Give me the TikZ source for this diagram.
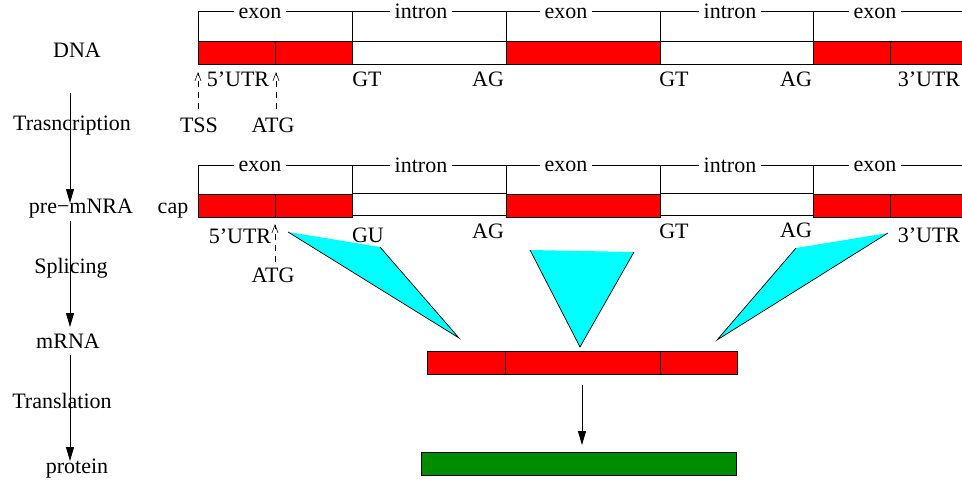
\documentclass[tikz,border=0pt]{standalone}
\usepackage{fontspec}
\setmainfont{Liberation Serif}
\usetikzlibrary{arrows.meta}
\definecolor{exonred}{RGB}{255,0,0}
\definecolor{protgreen}{RGB}{0,140,0}
\definecolor{spliceccyan}{RGB}{0,255,255}
\tikzset{
  lbl/.style={font=\fontsize{22}{24}\selectfont, inner sep=0pt, anchor=base},
  brlbl/.style={lbl, fill=white, inner xsep=5pt, inner ysep=3pt},
  exonbox/.style={fill=exonred, draw=black, line width=0.7pt},
  intronbox/.style={fill=white, draw=black, line width=0.7pt},
  bracket/.style={draw=black, line width=0.6pt},
  flow/.style={line width=0.8pt, -{Triangle[length=14pt,width=8pt]}},
  marker/.style={line width=0.6pt, dash pattern=on 6pt off 5pt, -{Straight Barb[length=8pt,width=6pt]}},
  spliceedge/.style={line width=0.7pt}
}
\begin{document}
\begin{tikzpicture}[x=1pt,y=-1pt]
\useasboundingbox (0,0) rectangle (962,480);
\clip (0,0) rectangle (962,480);

% ---------------- left column: stages and steps ----------------
\node[lbl] (dna)    at (77,57)  {DNA};
\node[lbl] (trans)  at (72,130) {Trasncription};
\node[lbl] (pre)    at (81,213) {pre\textminus mNRA};
\node[lbl] (splice) at (71,273) {Splicing};
\node[lbl] (mrna)   at (68,348) {mRNA};
\node[lbl] (transl) at (62,408) {Translation};
\node[lbl] (prot)   at (77,473) {protein};

\coordinate (a1s) at (70,93);  \coordinate (a1e) at (70,203);
\coordinate (a2s) at (70,221); \coordinate (a2e) at (70,327);
\coordinate (a3s) at (70,355); \coordinate (a3e) at (70,461);
\draw[flow] (a1s) -- (a1e);
\draw[flow] (a2s) -- (a2e);
\draw[flow] (a3s) -- (a3e);

% ---------------- DNA ----------------
\draw[bracket] (198,41) -- (198,11) -- (966,11);
\foreach \x in {352,506,660,813} \draw[bracket] (\x,11) -- (\x,41);
\node[brlbl] (dex1) at (260,18) {exon};
\node[brlbl] (din1) at (421,18) {intron};
\node[brlbl] (dex2) at (566,18) {exon};
\node[brlbl] (din2) at (730,18) {intron};
\node[brlbl] (dex3) at (875,18) {exon};

\draw[exonbox]   (198,41) rectangle (275,64);
\draw[exonbox]   (275,41) rectangle (352,64);
\draw[intronbox] (352,41) rectangle (506,64);
\draw[exonbox]   (506,41) rectangle (660,64);
\draw[intronbox] (660,41) rectangle (813,64);
\draw[exonbox]   (813,41) rectangle (890,64);
\draw[exonbox]   (890,41) rectangle (968,64);

\node[lbl] (utr5a) at (238,86) {5’UTR};
\node[lbl] (gt1a)  at (367,86) {GT};
\node[lbl] (ag1a)  at (488,86) {AG};
\node[lbl] (gt2a)  at (674,86) {GT};
\node[lbl] (ag2a)  at (796,86) {AG};
\node[lbl] (utr3a) at (929,86) {3’UTR};

\node[lbl] (tss)  at (199,132) {TSS};
\node[lbl] (atga) at (273,132) {ATG};
\coordinate (tssfoot) at (198,109); \coordinate (tsstip) at (198,72);
\coordinate (atgfoot) at (276,109); \coordinate (atgtip) at (276,72);
\draw[marker] (tssfoot) -- (tsstip);
\draw[marker] (atgfoot) -- (atgtip);

% ---------------- pre-mRNA ----------------
\draw[bracket] (198,194) -- (198,165) -- (966,165);
\foreach \x in {352,506,660,813} \draw[bracket] (\x,165) -- (\x,194);
\node[brlbl] (pex1) at (260,171) {exon};
\node[brlbl] (pin1) at (421,172) {intron};
\node[brlbl] (pex2) at (566,171) {exon};
\node[brlbl] (pin2) at (730,172) {intron};
\node[brlbl] (pex3) at (875,171) {exon};

\draw[intronbox] (352,193) rectangle (506,215);
\draw[intronbox] (660,193) rectangle (813,215);
\draw[exonbox]   (198,194) rectangle (275,217);
\draw[exonbox]   (275,194) rectangle (352,217);
\draw[exonbox]   (506,194) rectangle (660,217);
\draw[exonbox]   (813,194) rectangle (890,217);
\draw[exonbox]   (890,194) rectangle (968,217);

\node[lbl] (cap)   at (173,213) {cap};
\node[lbl] (utr5b) at (240,243) {5’UTR};
\node[lbl] (gu)    at (368,242) {GU};
\node[lbl] (ag1b)  at (488,238) {AG};
\node[lbl] (gt2b)  at (674,238) {GT};
\node[lbl] (ag2b)  at (796,237) {AG};
\node[lbl] (utr3b) at (929,242) {3’UTR};

\node[lbl] (atgb) at (273,282) {ATG};
\coordinate (atgbfoot) at (275,262); \coordinate (atgbtip) at (275,224);
\draw[marker] (atgbfoot) -- (atgbtip);

% ---------------- splicing wedges ----------------
\fill[spliceccyan] (288,232) -- (380,247) -- (459,338) -- cycle;
\draw[spliceedge] (288,232) -- (459,338) -- (380,247);
\fill[spliceccyan] (530,250) -- (634,252) -- (580,347) -- cycle;
\draw[spliceedge] (530,250) -- (580,347) -- (634,252);
\fill[spliceccyan] (796,248) -- (888,233) -- (717,340) -- cycle;
\draw[spliceedge] (796,248) -- (717,340) -- (888,233);

% ---------------- mRNA and protein ----------------
\draw[exonbox] (427,351) rectangle (505,374);
\draw[exonbox] (505,351) rectangle (660,374);
\draw[exonbox] (660,351) rectangle (737,374);

\coordinate (tls) at (582,385); \coordinate (tle) at (582,445);
\draw[flow] (tls) -- (tle);

\draw[fill=protgreen, draw=black, line width=0.7pt] (421,452) rectangle (736,475);
\end{tikzpicture}
\end{document}
